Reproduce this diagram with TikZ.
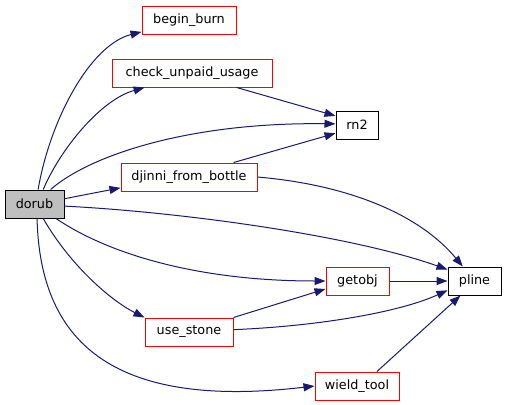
\documentclass[tikz,border=0pt]{standalone}
\usepackage{fontspec}
\setmainfont{DejaVu Sans}
\usetikzlibrary{arrows.meta}
\definecolor{edgeblue}{HTML}{191970}
\definecolor{boxgray}{HTML}{BFBFBF}

\begin{document}
\begin{tikzpicture}[x=1pt,y=-1pt,
        fn/.style={draw=red,line width=1pt,fill=white,inner sep=0pt,minimum height=28pt,
                   font=\fontsize{12.8}{15}\selectfont},
        leaf/.style={fn,draw=black},
        call/.style={edgeblue,line width=1pt,-{Triangle[length=11pt,width=8pt]}}]
        \useasboundingbox (0,0) rectangle (507,405);

        % functions
        \node[leaf,fill=boxgray,minimum width=59pt] (dorub) at (34.5,204) {dorub};
        \node[fn,minimum width=94pt] (burn) at (189,20) {begin\_burn};
        \node[fn,minimum width=160pt] (unpaid) at (192,73) {check\_unpaid\_usage};
        \node[fn,minimum width=136pt] (djinni) at (189,177) {djinni\_from\_bottle};
        \node[leaf,minimum width=42pt] (rn2) at (357,125) {rn2};
        \node[fn,minimum width=63pt] (getobj) at (357.5,281) {getobj};
        \node[leaf,minimum width=53pt] (pline) at (474.5,281) {pline};
        \node[fn,minimum width=88pt] (stone) at (189,332) {use\_stone};
        \node[fn,minimum width=84pt] (wield) at (357,386) {wield\_tool};

        % calls from dorub
        \draw[call] (dorub.76) .. controls (50,120) and (90,45) .. (burn.194);
        \draw[call] (dorub.59) .. controls (60,150) and (100,100) .. (unpaid.197);
        \draw[call] (dorub.42) .. controls (90,155) and (190,122) .. (rn2.177);
        \draw[call] (dorub.10) -- (djinni.189);
        \draw[call] (dorub.-4) .. controls (180,212) and (350,235) .. (pline.157);
        \draw[call] (dorub.-34) .. controls (110,255) and (200,281) .. (getobj.west);
        \draw[call] (dorub.-59) .. controls (70,265) and (110,300) .. (stone.162);
        \draw[call] (dorub.-80) .. controls (40,340) and (110,410) .. (wield.west);

        % other calls
        \draw[call] (unpaid.-18) -- (rn2.157);
        \draw[call] (djinni.18) -- (rn2.201);
        \draw[call] (djinni.east) .. controls (350,185) and (420,215) .. (pline.129);
        \draw[call] (getobj.east) -- (pline.west);
        \draw[call] (stone.north east) -- (getobj.194);
        \draw[call] (stone.3) .. controls (320,326) and (400,312) .. (pline.199);
        \draw[call] (wield.36) -- (pline.226);
    \end{tikzpicture}
\end{document}
